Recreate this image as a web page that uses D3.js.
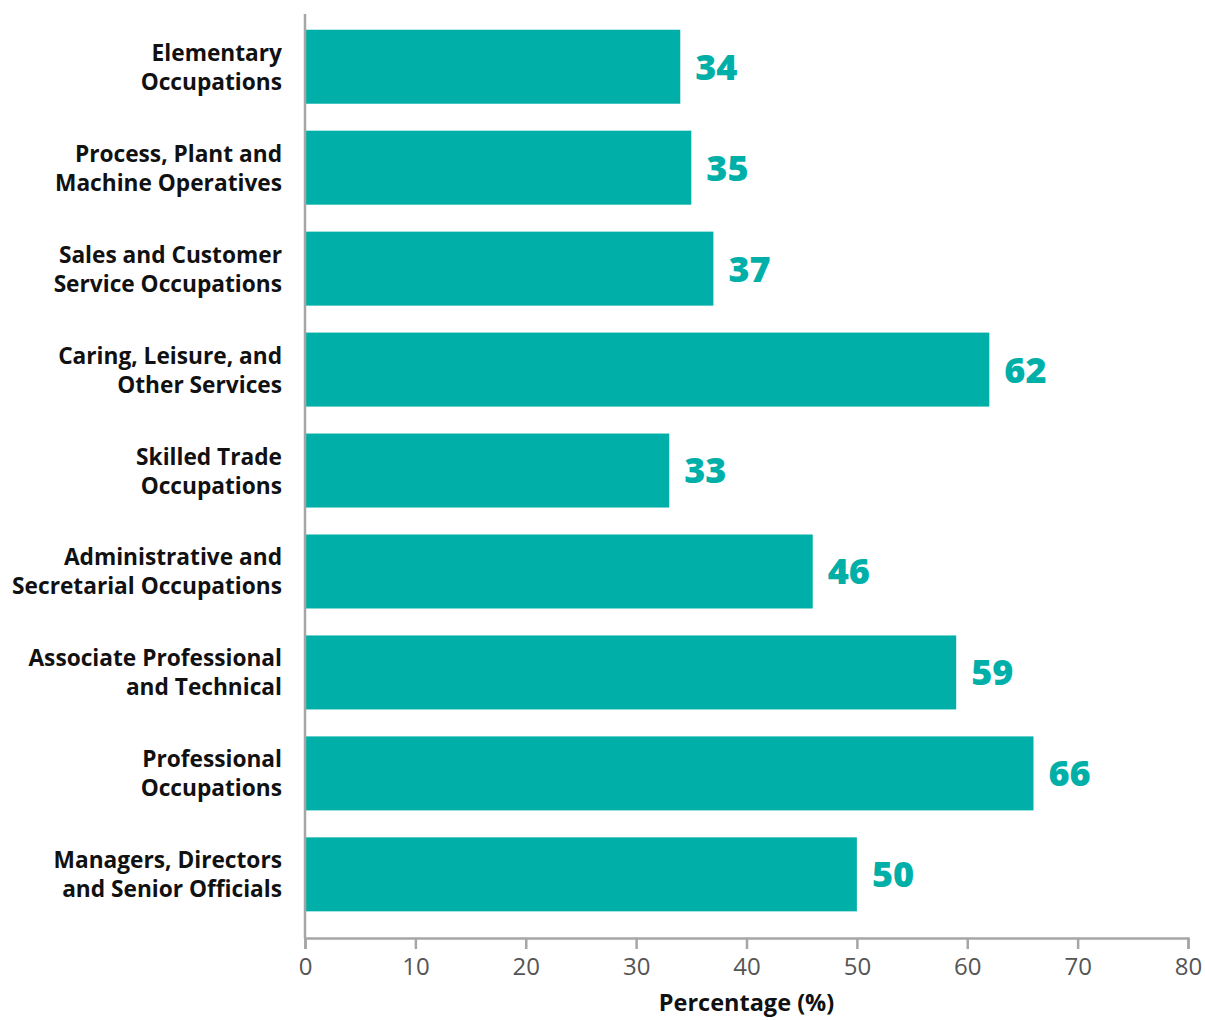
<!DOCTYPE html>
<html>
<head>
<meta charset="utf-8">
<script src="https://cdn.jsdelivr.net/npm/d3@7"></script>
<style>
  body { margin: 0; background: #fff; }
  svg text { font-family: "Open Sans", Lato, sans-serif; }
</style>
</head>
<body>
<svg id="chart" width="1205" height="1020"></svg>
<script>
// occupation groups, top to bottom
var categories = [
  ["Elementary", "Occupations"],
  ["Process, Plant and", "Machine Operatives"],
  ["Sales and Customer", "Service Occupations"],
  ["Caring, Leisure, and", "Other Services"],
  ["Skilled Trade", "Occupations"],
  ["Administrative and", "Secretarial Occupations"],
  ["Associate Professional", "and Technical"],
  ["Professional", "Occupations"],
  ["Managers, Directors", "and Senior Officials"]
];
var values = [34, 35, 37, 62, 33, 46, 59, 66, 50];
var xTicks = [0, 10, 20, 30, 40, 50, 60, 70, 80];
var xTitle = "Percentage (%)";

var barColor = "#00b0a8";
var axisColor = "#a6a6a6";

var margin = { top: 16, right: 17, bottom: 82, left: 305 },
  width = 1205 - margin.left - margin.right,
  height = 1020 - margin.top - margin.bottom;

var svg = d3.select("#chart");
var g = svg.append("g")
  .attr("transform", "translate(" + margin.left + "," + margin.top + ")");

var x = d3.scaleLinear().domain([0, 80]).range([0, width]);
var y = d3.scaleBand()
  .domain(d3.range(categories.length))
  .range([0, height])
  .paddingInner(0.267)
  .paddingOuter(0.2)
  .align(0.34);

// bars
g.selectAll(".bar")
  .data(values)
  .enter()
  .append("rect")
  .attr("class", "bar")
  .attr("x", 0)
  .attr("y", function (d, i) { return y(i); })
  .attr("width", function (d) { return x(d); })
  .attr("height", y.bandwidth())
  .attr("fill", barColor);

// value labels
g.selectAll(".val")
  .data(values)
  .enter()
  .append("text")
  .attr("class", "val")
  .attr("x", function (d) { return x(d) + 15; })
  .attr("y", function (d, i) { return y(i) + y.bandwidth() / 2; })
  .attr("dy", "0.36em")
  .attr("fill", barColor)
  .style("font-size", "36px")
  .style("font-weight", 800)
  .text(function (d) { return d; });

// category labels, two lines each
var cat = g.selectAll(".cat")
  .data(categories)
  .enter()
  .append("text")
  .attr("class", "cat")
  .attr("text-anchor", "end")
  .attr("fill", "#111")
  .style("font-size", "22.7px")
  .style("font-weight", 700)
  .attr("transform", function (d, i) {
    return "translate(-23," + (y(i) + y.bandwidth() / 2) + ")";
  });
cat.selectAll("tspan")
  .data(function (d) { return d; })
  .enter()
  .append("tspan")
  .attr("x", 0)
  .attr("y", function (d, j) { return j === 0 ? -6 : 23; })
  .text(function (d) { return d; });

// x axis
var xAxis = g.append("g")
  .attr("transform", "translate(0," + height + ")")
  .call(d3.axisBottom(x).tickValues(xTicks).tickSize(11).tickPadding(9));
xAxis.select(".domain").attr("stroke", axisColor).attr("stroke-width", 2.5);
xAxis.selectAll(".tick line").attr("stroke", axisColor).attr("stroke-width", 2.5);
xAxis.selectAll(".tick text")
  .attr("fill", "#555")
  .style("font-size", "24px")
  .style("font-family", "'Open Sans', sans-serif");

// y axis line
g.append("line")
  .attr("x1", 0).attr("x2", 0)
  .attr("y1", -2).attr("y2", height)
  .attr("stroke", axisColor)
  .attr("stroke-width", 2.5);

// axis title
g.append("text")
  .attr("x", width / 2)
  .attr("y", height + 73)
  .attr("text-anchor", "middle")
  .attr("fill", "#111")
  .style("font-size", "23.5px")
  .style("font-weight", 700)
  .text(xTitle);
</script>
</body>
</html>
